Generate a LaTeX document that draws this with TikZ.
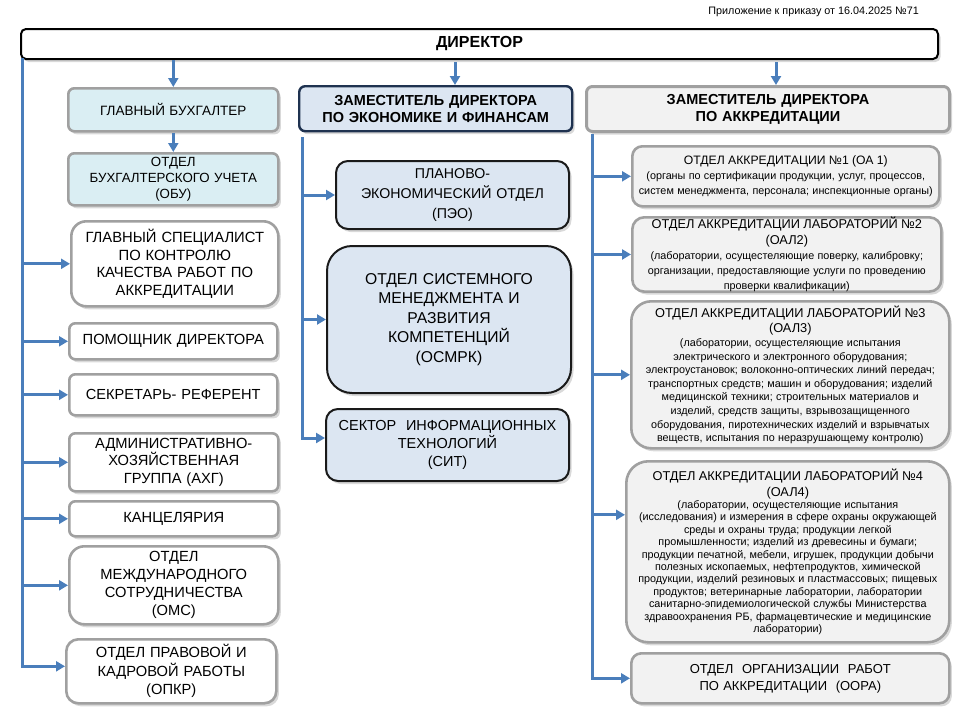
\documentclass[tikz,border=0pt]{standalone}
\usepackage{fontspec}
\setmainfont{Liberation Sans}
\usetikzlibrary{shadows,arrows.meta}
\definecolor{arrowblue}{HTML}{4A7EBB}
\definecolor{boxgray}{HTML}{A0A0A0}
\definecolor{ltcyan}{HTML}{DAEEF3}
\definecolor{ltsteel}{HTML}{DCE6F2}
\definecolor{ltgray}{HTML}{F2F2F2}
\definecolor{navy}{HTML}{1F3250}
\definecolor{nearblack}{HTML}{1A1A1A}
\newcommand\fsz[2]{\fontsize{#1}{#2}\selectfont}
\tikzset{
  sz/.style 2 args={minimum width=#1pt, minimum height=#2pt},
  shad/.style={drop shadow={shadow xshift=2.5pt, shadow yshift=-3pt, opacity=0.3}},
  basebox/.style={inner sep=0pt, anchor=north west, align=center, shad},
  dirbox/.style={basebox, rounded corners=5pt, draw=black, line width=2pt, fill=white},
  graybox/.style={basebox, rounded corners=#1, draw=boxgray, line width=2.6pt, fill=white},
  graybox/.default=6pt,
  darkbox/.style={basebox, rounded corners=#1, draw=nearblack, line width=2pt, fill=ltsteel},
  darkbox/.default=10pt,
  conn/.style={draw=arrowblue, line width=3pt, -{Triangle[length=9pt,width=10pt]}},
}
\begin{document}
\begin{tikzpicture}[x=1pt,y=-1pt]
\useasboundingbox (0,0) rectangle (960,720);

% note
\node[anchor=east, inner sep=0pt, font=\fsz{10.8}{12}] (note) at (919,12) {Приложение к приказу от 16.04.2025 №71};

% director
\node[dirbox, sz={917}{30}, text width=905pt, font=\fsz{16}{18}\bfseries] (dir) at (20,28) {ДИРЕКТОР};

% left column
\node[graybox, fill=ltcyan, sz={210}{43}, text width=202pt, font=\fsz{13.5}{15}] (gb) at (67,87) {ГЛАВНЫЙ БУХГАЛТЕР};
\node[graybox, fill=ltcyan, sz={210}{52}, text width=202pt, font=\fsz{13.3}{15.8}] (obu) at (67,152) {ОТДЕЛ\\БУХГАЛТЕРСКОГО УЧЕТА\\(ОБУ)};
\node[graybox=15pt, sz={207}{85}, text width=201pt, font=\fsz{14.8}{17.7}] (gs) at (70,220) {ГЛАВНЫЙ СПЕЦИАЛИСТ\\ПО КОНТРОЛЮ\\КАЧЕСТВА РАБОТ ПО\\АККРЕДИТАЦИИ};
\node[graybox, sz={208}{36}, text width=202pt, font=\fsz{14.7}{17}] (pd) at (68,322) {ПОМОЩНИК ДИРЕКТОРА};
\node[graybox, sz={208}{41}, text width=202pt, font=\fsz{14.6}{17}] (sr) at (68,373) {СЕКРЕТАРЬ- РЕФЕРЕНТ};
\node[graybox, sz={209}{58}, text width=203pt, font=\fsz{14.7}{17.5}] (ahg) at (68,432) {АДМИНИСТРАТИВНО-\\ХОЗЯЙСТВЕННАЯ\\ГРУППА (АХГ)};
\node[graybox, sz={209}{35}, text width=203pt, font=\fsz{14.7}{17}] (kan) at (68,500) {КАНЦЕЛЯРИЯ};
\node[graybox=15pt, sz={209}{78}, text width=203pt, font=\fsz{14.7}{18}] (oms) at (68,545) {ОТДЕЛ\\МЕЖДУНАРОДНОГО\\СОТРУДНИЧЕСТВА\\(ОМС)};
\node[graybox=12pt, sz={210}{64}, text width=204pt, font=\fsz{14.7}{18.5}] (opkr) at (65,638) {ОТДЕЛ ПРАВОВОЙ И\\КАДРОВОЙ РАБОТЫ\\(ОПКР)};

% middle column
\node[basebox, rounded corners=6pt, draw=navy, line width=2.4pt, fill=ltsteel, sz={273}{45}, text width=267pt, font=\fsz{14.5}{17}\bfseries] (zef) at (298,85) {ЗАМЕСТИТЕЛЬ ДИРЕКТОРА\\ПО ЭКОНОМИКЕ И ФИНАНСАМ};
\node[darkbox=12pt, sz={233}{68}, text width=227pt, font=\fsz{14.2}{20}] (peo) at (335,160) {ПЛАНОВО-\\ЭКОНОМИЧЕСКИЙ ОТДЕЛ\\(ПЭО)};
\node[darkbox=25pt, sz={244}{147}, text width=238pt, font=\fsz{15.7}{19.5}] (osmrk) at (326,245) {ОТДЕЛ СИСТЕМНОГО\\МЕНЕДЖМЕНТА И\\РАЗВИТИЯ\\КОМПЕТЕНЦИЙ\\(ОСМРК)};
\node[darkbox=12pt, sz={243}{72}, text width=237pt, font=\fsz{14.5}{18}] (sit) at (325,408) {СЕКТОР\ \ ИНФОРМАЦИОННЫХ\\ТЕХНОЛОГИЙ\\(СИТ)};

% right column
\node[graybox=6pt, line width=3pt, fill=ltgray, sz={363}{45}, text width=355pt, font=\fsz{14.5}{17}\bfseries] (zda) at (585,85) {ЗАМЕСТИТЕЛЬ ДИРЕКТОРА\\ПО АККРЕДИТАЦИИ};
\node[graybox=10pt, fill=ltgray, sz={307}{60}, text width=303pt] (oa1) at (631,145) {\fsz{12.2}{15}ОТДЕЛ АККРЕДИТАЦИИ №1 (ОА 1)\par\fsz{10.8}{15}(органы по сертификации продукции, услуг, процессов,\\систем менеджмента, персонала; инспекционные органы)\par};
\node[graybox=12pt, fill=ltgray, sz={309}{74}, text width=305pt] (oal2) at (631,216) {\fsz{12.8}{15.5}ОТДЕЛ АККРЕДИТАЦИИ ЛАБОРАТОРИЙ №2\\(ОАЛ2)\par\fsz{10.8}{15}(лаборатории, осущестеляющие поверку, калибровку;\\организации, предоставляющие услуги по проведению\\проверки квалификации)\par};
\node[graybox=20pt, fill=ltgray, sz={318}{147}, text width=314pt] (oal3) at (630,300) {\fsz{12.8}{15.5}ОТДЕЛ АККРЕДИТАЦИИ ЛАБОРАТОРИЙ №3\\(ОАЛ3)\par\fsz{10.8}{13.6}(лаборатории, осущестеляющие испытания\\электрического и электронного оборудования;\\электроустановок; волоконно-оптических линий передач;\\транспортных средств; машин и оборудования; изделий\\медицинской техники; строительных материалов и\\изделий, средств защиты, взрывозащищенного\\оборудования, пиротехнических изделий и взрывчатых\\веществ, испытания по неразрушающему контролю)\par};
\node[graybox=22pt, fill=ltgray, sz={323}{181}, text width=319pt] (oal4) at (625,460) {\fsz{12.8}{15.5}ОТДЕЛ АККРЕДИТАЦИИ ЛАБОРАТОРИЙ №4\\(ОАЛ4)\par\fsz{10.8}{12.4}(лаборатории, осущестеляющие испытания\\(исследования) и измерения в сфере охраны окружающей\\среды и охраны труда; продукции легкой\\промышленности; изделий из древесины и бумаги;\\продукции печатной, мебели, игрушек, продукции добычи\\полезных ископаемых, нефтепродуктов, химической\\продукции, изделий резиновых и пластмассовых; пищевых\\продуктов; ветеринарные лаборатории, лаборатории\\санитарно-эпидемиологической службы Министерства\\здравоохранения РБ, фармацевтические и медицинские\\лаборатории)\par};
\node[graybox=10pt, fill=ltgray, sz={318}{50}, text width=310pt, font=\fsz{13}{17}] (oora) at (630,652) {ОТДЕЛ\ \ ОРГАНИЗАЦИИ\ \ РАБОТ\\ПО АККРЕДИТАЦИИ\ \ (ООРА)};

% trunk coordinates
\coordinate (LT) at (22,58);
\coordinate (MZ) at (455,0);
\coordinate (RZ) at (776,0);
\coordinate (MT) at (302,137);
\coordinate (RT) at (592,134);

% director arrows
\draw[conn] (gb.north |- dir.south) -- (gb.north);
\draw[conn] ([yshift=-2pt]dir.south -| MZ) -- (zef.north -| MZ);
\draw[conn] ([yshift=-2pt]dir.south -| RZ) -- (zda.north -| RZ);
\draw[conn] (gb.south) -- (obu.north);

% left trunk
\draw[conn] (LT) |- ([yshift=5pt]opkr.west);
\foreach \n in {gs,pd,sr,ahg,kan,oms}
  \draw[conn] (\n.west -| LT) -- (\n.west);

% middle trunk
\draw[conn] (MT) |- ([yshift=7pt]sit.west);
\draw[conn] (peo.west -| MT) -- (peo.west);
\draw[conn] (osmrk.west -| MT) -- (osmrk.west);

% right trunk
\draw[conn] (RT) |- (oora.west);
\foreach \n in {oa1,oal2,oal3}
  \draw[conn] (\n.west -| RT) -- (\n.west);
\draw[conn] ([yshift=37pt]oal4.west -| RT) -- ([yshift=37pt]oal4.west);
\end{tikzpicture}
\end{document}
